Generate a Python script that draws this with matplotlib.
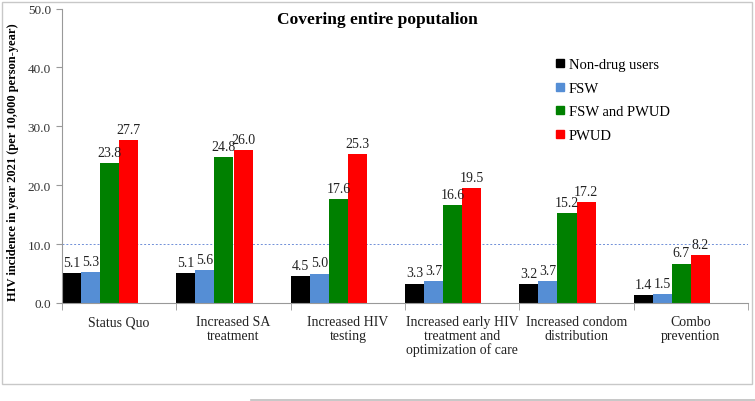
import numpy as np
import matplotlib.pyplot as plt
from matplotlib.lines import Line2D
from matplotlib.patches import Rectangle

plt.rcParams['font.family'] = ['Liberation Serif', 'DejaVu Serif']

categories = ['Status Quo', 'Increased SA\ntreatment', 'Increased HIV\ntesting',
              'Increased early HIV\ntreatment and\noptimization of care',
              'Increased condom\ndistribution', 'Combo\nprevention']
series_names = ['Non-drug users', 'FSW', 'FSW and PWUD', 'PWUD']
non_drug = [5.1, 5.1, 4.5, 3.3, 3.2, 1.4]
fsw = [5.3, 5.6, 5.0, 3.7, 3.7, 1.5]
fsw_pwud = [23.8, 24.8, 17.6, 16.6, 15.2, 6.7]
pwud = [27.7, 26.0, 25.3, 19.5, 17.2, 8.2]
colors = ['#000000', '#558ED5', '#008000', '#FF0000']
yticks = [0, 10, 20, 30, 40, 50]

fig = plt.figure(figsize=(7.55, 4.02), dpi=100)
ax = fig.add_axes([62 / 755, 1 - 304 / 402, 686 / 755, 294.5 / 402])

# outer frame and a stray line below, as in the source
fig.add_artist(Rectangle((2 / 755, 1 - 385 / 402), 750 / 755, 382 / 402,
                         transform=fig.transFigure, fill=False,
                         edgecolor='#c8c8c8', linewidth=1))
fig.add_artist(Line2D([251 / 755, 1], [1 - 401 / 402] * 2, transform=fig.transFigure,
                      color='#bdbdbd', linewidth=1.2))

x = np.arange(len(categories))
w = 1 / 6
all_series = [non_drug, fsw, fsw_pwud, pwud]
for j, vals in enumerate(all_series):
    left = x - 0.5 + j * w
    bars = ax.bar(left, vals, width=w, align='edge', color=colors[j], label=series_names[j])
    for b, v in zip(bars, vals):
        ax.text(b.get_x() + b.get_width() / 2, v + 0.7, f'{v:.1f}',
                ha='center', va='bottom', fontsize=10, color='#222222')

ax.axhline(10, color='#6f8fd8', linestyle=(0, (2, 2)), linewidth=0.7, zorder=0)

ax.set_xlim(-0.5, len(categories) - 0.5)
ax.set_ylim(0, 50)
ax.set_yticks(yticks)
ax.set_yticklabels([f'{t:.1f}' for t in yticks], fontsize=9.5, color='#333333')
ax.set_xticks(x)
ax.set_xticklabels(categories, fontsize=10, linespacing=1.05, color='#222222')
ax.set_xticks(np.arange(len(categories) + 1) - 0.5, minor=True)
ax.tick_params(axis='x', which='major', length=0, pad=9)
ax.tick_params(axis='x', which='minor', length=5, color='#999999')
ax.tick_params(axis='y', length=4, color='#999999', pad=4)

for s in ['top', 'right']:
    ax.spines[s].set_visible(False)
for s in ['left', 'bottom']:
    ax.spines[s].set_color('#999999')

fig.text(13 / 755, 1 - 162 / 402, 'HIV incidence in year 2021 (per 10,000 person-year)',
         rotation=90, ha='center', va='center', fontsize=9, fontweight='bold')
fig.text(377 / 755, 1 - 20 / 402, 'Covering entire poputalion', ha='center', va='center',
         fontsize=12.5, fontweight='bold')

handles = [Line2D([], [], marker='s', linestyle='', color=c, markersize=5.5) for c in colors]
fig.legend(handles, series_names, loc='upper left', bbox_to_anchor=(550 / 755, 1 - 53 / 402),
           frameon=False, fontsize=10.5, handlelength=0.6, handletextpad=0.3,
           labelspacing=0.72, borderaxespad=0)

fig.savefig('out.png', dpi=100)
